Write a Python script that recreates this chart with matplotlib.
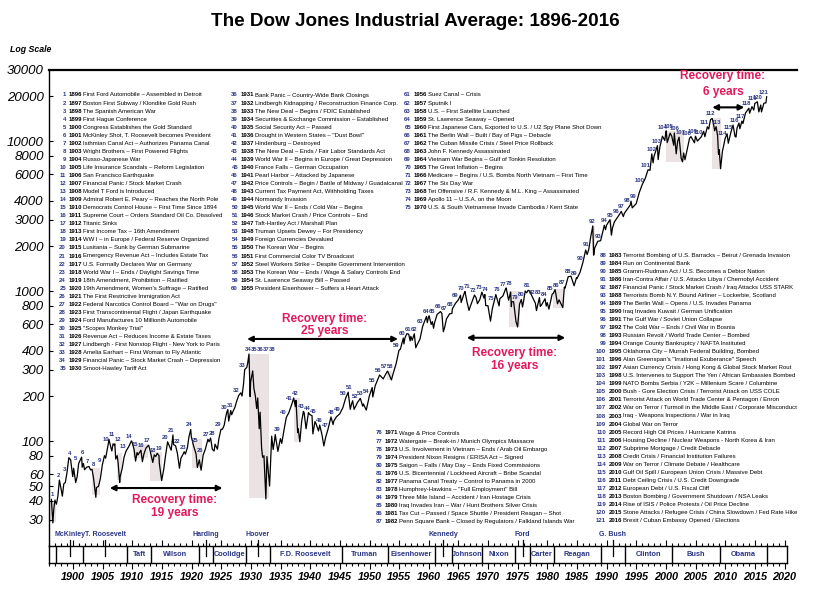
import numpy as np
import matplotlib
matplotlib.use("Agg")
import matplotlib.pyplot as plt
from matplotlib import font_manager as fm
from matplotlib.transforms import blended_transform_factory
from matplotlib.lines import Line2D
from matplotlib.ticker import FixedLocator, MultipleLocator, NullLocator

# ---------------- DATA ----------------
t_1890s = [1896.35, 1896.6, 1896.75, 1896.95, 1897.2, 1897.45, 1897.7, 1897.95, 1898.2, 1898.45, 1898.7, 1898.95, 1899.3, 1899.6, 1899.95]
v_1890s = [40.9, 28.5, 35, 40.5, 38, 43, 55, 49, 43, 52, 53, 60.5, 77.6, 75, 58]
t_1900s = [1900.1, 1900.45, 1900.7, 1900.95, 1901.3, 1901.45, 1901.55, 1901.75, 1901.95, 1902.3, 1902.7, 1902.95, 1903.2, 1903.45, 1903.85, 1903.95, 1904.3, 1904.6, 1904.95, 1905.3, 1905.5, 1905.95, 1906.05, 1906.35, 1906.55, 1906.75, 1906.95, 1907.05, 1907.2, 1907.45, 1907.6, 1907.87, 1907.95, 1908.3, 1908.6, 1908.95, 1909.4, 1909.85, 1909.95]
v_1900s = [66, 53, 58, 71, 76, 78.3, 67, 71, 64.5, 67, 67.8, 64.3, 65, 57, 42.2, 49, 50, 56, 69.6, 80, 77, 96, 103, 92, 86, 96, 94, 96, 76, 80, 72, 53, 58, 66, 78, 86, 92, 100.5, 99]
t_1910s = [1910.3, 1910.55, 1910.8, 1910.95, 1911.45, 1911.7, 1911.95, 1912.3, 1912.75, 1912.95, 1913.45, 1913.7, 1913.95, 1914.2, 1914.5, 1914.55, 1914.95, 1915.3, 1915.6, 1915.95, 1916.3, 1916.55, 1916.85, 1916.95, 1917.3, 1917.6, 1917.95, 1918.2, 1918.5, 1918.75, 1918.95, 1919.3, 1919.55, 1919.85, 1919.95]
v_1910s = [88, 73.6, 84, 81, 87, 73, 82, 90, 94, 88, 72.1, 81, 79, 83, 80, 71.4, 54.6, 65, 80, 99, 92, 87, 110, 95, 93, 83, 66, 77, 81, 85, 82, 91, 107, 119.6, 107]
t_1920s = [1920.3, 1920.55, 1920.75, 1920.97, 1921.3, 1921.6, 1921.95, 1922.3, 1922.75, 1922.95, 1923.2, 1923.5, 1923.8, 1923.95, 1924.35, 1924.6, 1924.95, 1925.2, 1925.5, 1925.75, 1925.95, 1926.1, 1926.25, 1926.6, 1926.75, 1926.95, 1927.3, 1927.6, 1927.95, 1928.3, 1928.5, 1928.75, 1928.95, 1929.3, 1929.45, 1929.67, 1929.87, 1929.95]
v_1920s = [94, 87, 82, 66.8, 75, 64, 81, 88, 103, 99, 105, 88, 86, 95.5, 88.3, 104, 120, 120, 128, 145, 156.7, 162, 136, 160, 150, 157, 168, 185, 202, 210, 200, 240, 300, 310, 330, 381, 198, 248]
t_1930s = [1930.3, 1930.5, 1930.75, 1930.97, 1931.15, 1931.4, 1931.55, 1931.8, 1931.97, 1932.2, 1932.52, 1932.7, 1932.97, 1933.15, 1933.5, 1933.75, 1933.97, 1934.1, 1934.55, 1934.97, 1935.2, 1935.6, 1935.97, 1936.4, 1936.97, 1937.2, 1937.5, 1937.6, 1937.88, 1937.97, 1938.25, 1938.55, 1938.85, 1938.97, 1939.3, 1939.7, 1939.97]
v_1930s = [294, 225, 200, 165, 194, 121, 156, 90, 78, 80, 41.2, 79, 60, 50.2, 108, 88, 100, 110.7, 85.5, 104, 96.7, 120, 144, 155, 180, 194, 170, 187, 114, 121, 99, 135, 158, 155, 121, 155, 150]
t_1940s = [1940.3, 1940.45, 1940.8, 1940.97, 1941.4, 1941.6, 1941.97, 1942.3, 1942.6, 1942.97, 1943.5, 1943.85, 1943.97, 1944.4, 1944.97, 1945.5, 1945.97, 1946.4, 1946.75, 1946.97, 1947.15, 1947.4, 1947.97, 1948.45, 1948.85, 1948.97, 1949.45, 1949.97]
v_1940s = [148, 111.8, 135, 131, 117, 128, 111, 92.9, 106, 119, 145, 129, 136, 145, 152, 167, 193, 212, 163, 177, 186, 163, 181, 193, 171, 177, 161, 200]
t_1950s = [1950.45, 1950.55, 1950.97, 1951.7, 1951.97, 1952.3, 1952.97, 1953.05, 1953.7, 1953.97, 1954.5, 1954.97, 1955.2, 1955.7, 1955.8, 1955.97, 1956.3, 1956.6, 1956.85, 1956.97, 1957.2, 1957.55, 1957.8, 1957.97, 1958.5, 1958.97, 1959.6, 1959.75, 1959.97]
v_1950s = [228, 197, 235, 276, 269, 260, 291, 293, 256, 281, 330, 404, 410, 487, 445, 488, 521, 517, 466, 500, 470, 520, 419, 435, 478, 584, 678, 617, 679]
t_1960s = [1960.05, 1960.4, 1960.6, 1960.8, 1960.97, 1961.4, 1961.97, 1962.2, 1962.45, 1962.7, 1962.97, 1963.5, 1963.9, 1963.97, 1964.5, 1964.97, 1965.35, 1965.45, 1965.97, 1966.1, 1966.4, 1966.78, 1966.97, 1967.7, 1967.97, 1968.2, 1968.6, 1968.95, 1969.3, 1969.45, 1969.6, 1969.97]
v_1960s = [685, 600, 626, 566, 616, 700, 731, 710, 536, 580, 652, 706, 711, 763, 830, 874, 939, 840, 969, 995, 860, 744, 786, 943, 905, 825, 880, 985, 900, 950, 801, 800]
t_1970s = [1970.4, 1970.7, 1970.97, 1971.3, 1971.85, 1971.97, 1972.5, 1972.95, 1973.05, 1973.45, 1973.8, 1973.92, 1973.97, 1974.3, 1974.7, 1974.97, 1975.3, 1975.6, 1975.8, 1975.97, 1976.25, 1976.5, 1976.75, 1976.97, 1977.5, 1977.97, 1978.15, 1978.65, 1978.8, 1978.97, 1979.6, 1979.8, 1979.97]
v_1970s = [631, 760, 839, 950, 797, 890, 930, 1036, 1051, 870, 987, 788, 851, 850, 627, 577, 820, 881, 784, 852, 1003, 975, 1014, 1004, 910, 831, 742, 907, 792, 805, 890, 796, 838]
t_1980s = [1980.25, 1980.8, 1980.97, 1981.3, 1981.7, 1981.97, 1982.6, 1982.85, 1982.97, 1983.5, 1983.97, 1984.5, 1984.9, 1984.97, 1985.5, 1985.97, 1986.45, 1986.7, 1986.97, 1987.3, 1987.65, 1987.8, 1987.97, 1988.5, 1988.97, 1989.6, 1989.8, 1989.97]
v_1980s = [759, 955, 964, 1024, 824, 875, 777, 1065, 1046, 1248, 1258, 1086, 1230, 1212, 1335, 1547, 1880, 1755, 1896, 2300, 2722, 1738, 1939, 2150, 2169, 2752, 2570, 2753]
t_1990s = [1990.55, 1990.8, 1990.97, 1991.3, 1991.97, 1992.45, 1992.8, 1992.97, 1993.97, 1994.1, 1994.3, 1994.97, 1995.5, 1995.97, 1996.5, 1996.97, 1997.3, 1997.6, 1997.82, 1997.97, 1998.55, 1998.67, 1998.97, 1999.4, 1999.8, 1999.97]
v_1990s = [2999, 2365, 2634, 2900, 3169, 3400, 3140, 3301, 3754, 3978, 3590, 3834, 4556, 5117, 5650, 6448, 6390, 8223, 7161, 7908, 9338, 7539, 9181, 10800, 10100, 11497]
t_2000s = [2000.04, 2000.2, 2000.7, 2000.97, 2001.3, 2001.4, 2001.72, 2001.97, 2002.2, 2002.55, 2002.78, 2002.97, 2003.2, 2003.97, 2004.2, 2004.8, 2004.97, 2005.3, 2005.97, 2006.35, 2006.55, 2006.97, 2007.2, 2007.5, 2007.78, 2007.97, 2008.2, 2008.45, 2008.7, 2008.85, 2008.97, 2009.2, 2009.5, 2009.97]
v_2000s = [11723, 9796, 11310, 10787, 9390, 11337, 8236, 10021, 10635, 7702, 7286, 8342, 7524, 10454, 10737, 9750, 10783, 10012, 10718, 11640, 10706, 12463, 12050, 13930, 14164, 13265, 11740, 12500, 10850, 8175, 8776, 6547, 8500, 10428]
t_2010s = [2010.3, 2010.5, 2010.97, 2011.3, 2011.65, 2011.8, 2011.97, 2012.3, 2012.45, 2012.8, 2012.97, 2013.4, 2013.97, 2014.1, 2014.5, 2014.8, 2014.97, 2015.4, 2015.65, 2015.97, 2016.1, 2016.5, 2016.85, 2016.97]
v_2010s = [11205, 9686, 11578, 12810, 10720, 10655, 12218, 13213, 12100, 13610, 13104, 15400, 16577, 15372, 17000, 16117, 17823, 18312, 15666, 17425, 15660, 17900, 18000, 19763]

# crash periods (shaded)
shade_start = [1896.1, 1903.15, 1907.35, 1910.1, 1913.0, 1920.0, 1929.6, 1937.2, 1953.0, 1973.6, 1981.0, 1987.6, 1990.5, 2000.0, 2007.75]
shade_end = [1897.2, 1904.55, 1908.2, 1912.6, 1915.05, 1921.7, 1933.1, 1938.3, 1953.75, 1975.3, 1982.6, 1988.0, 1990.85, 2003.0, 2009.3]
shade_top = [40, 66, 84, 95, 85, 104, 381, 195, 293, 1000, 1030, 2722, 3000, 11723, 14164]
shade_low = [29, 44, 55, 77, 54, 66, 42, 99, 255, 580, 775, 1738, 2365, 7286, 6547]

# recovery periods
rec_start = [1906.2, 1929.35, 1966.4, 2007.8]
rec_end = [1925.2, 1954.8, 1983.0, 2013.2]
rec_level = [48.7, 480, 489, 16800]
rec_text = ["19 years", "25 years", "16 years", "6 years"]
rec_text_x = [1917.2, 1942.5, 1974.5, 2009.6]
rec_text_y1 = [40.5, 652, 387, 27200]
rec_text_y2 = [33.2, 542, 317, 21270]

y_ticks = [30, 40, 50, 60, 80, 100, 200, 300, 400, 600, 800, 1000, 2000, 3000, 4000, 6000, 8000, 10000, 20000, 30000]
x_ticks = list(range(1900, 2021, 5))

pres_names = ["McKinley", "T. Roosevelt", "Taft", "Wilson", "Harding", "Coolidge", "Hoover",
              "F.D. Roosevelt", "Truman", "Eisenhower", "Kennedy", "Johnson", "Nixon", "Ford",
              "Carter", "Reagan", "G. Bush", "Clinton", "Bush", "Obama"]
pres_start = [1897.17, 1901.7, 1909.17, 1913.17, 1921.17, 1923.6, 1929.17, 1933.17, 1945.3, 1953.05,
              1961.05, 1963.9, 1969.05, 1974.6, 1977.05, 1981.05, 1989.05, 1993.05, 2001.05, 2009.05]
pres_end_last = 2017.05
pres_above = [True, True, False, False, True, False, True, False, False, False,
              True, False, False, True, False, False, True, False, False, False]

events = [
    "First Ford Automobile \u2013 Assembled in Detroit",
    "Boston First Subway / Klondike Gold Rush",
    "The Spanish American War",
    "First Hague Conference",
    "Congress Establishes the Gold Standard",
    "McKinley Shot, T. Roosevelt becomes President",
    "Isthmian Canal Act \u2013 Authorizes Panama Canal",
    "Wright Brothers \u2013 First Powered Flights",
    "Russo-Japanese War",
    "Life Insurance Scandals \u2013 Reform Legislation",
    "San Francisco Earthquake",
    "Financial Panic / Stock Market Crash",
    "Model T Ford is Introduced",
    "Admiral Robert E. Peary \u2013 Reaches the North Pole",
    "Democrats Control House \u2013 First Time Since 1894",
    "Supreme Court \u2013 Orders Standard Oil Co. Dissolved",
    "Titanic Sinks",
    "First Income Tax \u2013 16th Amendment",
    "WW I \u2013 in Europe / Federal Reserve Organized",
    "Lusitania \u2013 Sunk by German Submarine",
    "Emergency Revenue Act \u2013 Includes Estate Tax",
    "U.S. Formally Declares War on Germany",
    "World War I \u2013 Ends / Daylight Savings Time",
    "18th Amendment, Prohibition \u2013 Ratified",
    "19th Amendment, Women's Suffrage \u2013 Ratified",
    "The First Restrictive Immigration Act",
    "Federal Narcotics Control Board \u2013 \"War on Drugs\"",
    "First Transcontinental Flight / Japan Earthquake",
    "Ford Manufactures 10 Millionth Automobile",
    "\"Scopes Monkey Trial\"",
    "Revenue Act \u2013 Reduces Income & Estate Taxes",
    "Lindbergh - First Nonstop Flight - New York to Paris",
    "Amelia Earhart \u2013 First Woman to Fly Atlantic",
    "Financial Panic \u2013 Stock Market Crash \u2013 Depression",
    "Smoot-Hawley Tariff Act",
    "Bank Panic \u2013 Country-Wide Bank Closings",
    "Lindbergh Kidnapping / Reconstruction Finance Corp.",
    "The New Deal \u2013 Begins / FDIC Established",
    "Securities & Exchange Commission \u2013 Established",
    "Social Security Act \u2013 Passed",
    "Drought in Western States \u2013 \"Dust Bowl\"",
    "Hindenburg \u2013 Destroyed",
    "The New Deal \u2013 Ends / Fair Labor Standards Act",
    "World War II \u2013 Begins in Europe / Great Depression",
    "France Falls \u2013 German Occupation",
    "Pearl Harbor \u2013 Attacked by Japanese",
    "Price Controls \u2013 Begin / Battle of Midway / Guadalcanal",
    "Current Tax Payment Act, Withholding Taxes",
    "Normandy Invasion",
    "World War II \u2013 Ends / Cold War \u2013 Begins",
    "Stock Market Crash / Price Controls \u2013 End",
    "Taft-Hartley Act / Marshall Plan",
    "Truman Upsets Dewey \u2013 For Presidency",
    "Foreign Currencies Devalued",
    "The Korean War \u2013 Begins",
    "First Commercial Color TV Broadcast",
    "Steel Workers Strike \u2013 Despite Government Intervention",
    "The Korean War \u2013 Ends / Wage & Salary Controls End",
    "St. Lawrence Seaway Bill \u2013 Passed",
    "President Eisenhower \u2013 Suffers a Heart Attack",
    "Suez Canal \u2013 Crisis",
    "Sputnik I",
    "U.S. \u2013 First Satellite Launched",
    "St. Lawrence Seaway \u2013 Opened",
    "First Japanese Cars, Exported to U.S. / U2 Spy Plane Shot Down",
    "The Berlin Wall \u2013 Built / Bay of Pigs \u2013 Debacle",
    "The Cuban Missile Crisis / Steel Price Rollback",
    "John F. Kennedy Assassinated",
    "Vietnam War Begins \u2013 Gulf of Tonkin Resolution",
    "The Great Inflation \u2013 Begins",
    "Medicare \u2013 Begins / U.S. Bombs North Vietnam \u2013 First Time",
    "The Six Day War",
    "Tet Offensive / R.F. Kennedy & M.L. King \u2013 Assassinated",
    "Apollo 11 \u2013 U.S.A. on the Moon",
    "U.S. & South Vietnamese Invade Cambodia / Kent State",
    "Wage & Price Controls",
    "Watergate \u2013 Break-in / Munich Olympics Massacre",
    "U.S. Involvement in Vietnam \u2013 Ends / Arab Oil Embargo",
    "President Nixon Resigns / ERISA Act \u2013 Signed",
    "Saigon \u2013 Falls / May Day \u2013 Ends Fixed Commissions",
    "U.S. Bicentennial / Lockheed Aircraft \u2013 Bribe Scandal",
    "Panama Canal Treaty \u2013 Control to Panama in 2000",
    "Humphrey-Hawkins \u2013 \"Full Employment\" Bill",
    "Three Mile Island \u2013 Accident / Iran Hostage Crisis",
    "Iraq Invades Iran \u2013 War / Hunt Brothers Silver Crisis",
    "Tax Cut \u2013 Passed / Space Shuttle / President Reagan \u2013 Shot",
    "Penn Square Bank \u2013 Closed by Regulators / Falkland Islands War",
    "Terrorist Bombing of U.S. Barracks \u2013 Beirut / Grenada Invasion",
    "Run on Continental Bank",
    "Gramm-Rudman Act / U.S. Becomes a Debtor Nation",
    "Iran-Contra Affair / U.S. Attacks Libya / Chernobyl Accident",
    "Financial Panic / Stock Market Crash / Iraq Attacks USS STARK",
    "Terrorists Bomb N.Y. Bound Airliner \u2013 Lockerbie, Scotland",
    "The Berlin Wall \u2013 Opens / U.S. Invades Panama",
    "Iraq Invades Kuwait / German Unification",
    "The Gulf War / Soviet Union Collapse",
    "The Cold War \u2013 Ends / Civil War in Bosnia",
    "Russian Revolt / World Trade Center \u2013 Bombed",
    "Orange County Bankruptcy / NAFTA Instituted",
    "Oklahoma City \u2013 Murrah Federal Building, Bombed",
    "Alan Greenspan's \"Irrational Exuberance\" Speech",
    "Asian Currency Crisis / Hong Kong & Global Stock Market Rout",
    "U.S. Intervenes to Support The Yen / African Embassies Bombed",
    "NATO Bombs Serbia / Y2K \u2013 Millenium Scare / Columbine",
    "Bush - Gore Election Crisis / Terrorist Attack on USS COLE",
    "Terrorist Attack on World Trade Center & Pentagon / Enron",
    "War on Terror / Turmoil in the Middle East / Corporate Misconduct",
    "Iraq - Weapons Inspections / War in Iraq",
    "Global War on Terror",
    "Record High Oil Prices / Hurricane Katrina",
    "Housing Decline / Nuclear Weapons - North Korea & Iran",
    "Subprime Mortgage / Credit Debacle",
    "Credit Crisis / Financial Institution Failures",
    "War on Terror / Climate Debate / Healthcare",
    "Gulf Oil Spill / European Union Crisis / Massive Debt",
    "Debt Ceiling Crisis / U.S. Credit Downgrade",
    "European Debt / U.S. Fiscal Cliff",
    "Boston Bombing / Government Shutdown / NSA Leaks",
    "Rise of ISIS / Police Protests / Oil Price Decline",
    "Stone Attacks / Refugee Crisis / China Slowdown / Fed Rate Hike",
    "Brexit / Cuban Embassy Opened / Elections",
]
FIRST_YEAR = 1896

# ---------------- STYLE ----------------
installed = {f.name for f in fm.fontManager.ttflist}
NARROW = "Liberation Sans Narrow" in installed
BASE = "Liberation Sans" if "Liberation Sans" in installed else "DejaVu Sans"
COND = "Liberation Sans Narrow" if NARROW else BASE
plt.rcParams["font.family"] = [BASE, "DejaVu Sans"]

NAVY = "#2a3585"
RED = "#e3195b"
SHADE = "#ebe2e3"

W, H = 823, 591
fig = plt.figure(figsize=(W / 100, H / 100), dpi=100)
fig.patch.set_facecolor("white")


def fx(px):
    return px / W


def fy(py):
    return 1 - py / H


PXY = 5.93      # pixels per year
X0 = 49.3       # pixel of left axis

# ---------------- MAIN AXES ----------------
ax = fig.add_axes([fx(X0), fy(546), fx(797) - fx(X0), fy(69.6) - fy(546)])
ax.set_xlim(1896, 1896 + (797 - X0) / PXY)
ax.set_yscale("log")
ax.set_ylim(20, 30000)

dow_t = np.array(t_1890s + t_1900s + t_1910s + t_1920s + t_1930s + t_1940s + t_1950s + t_1960s + t_1970s + t_1980s + t_1990s + t_2000s + t_2010s)
dow_v = np.array(v_1890s + v_1900s + v_1910s + v_1920s + v_1930s + v_1940s + v_1950s + v_1960s + v_1970s + v_1980s + v_1990s + v_2000s + v_2010s)

for s, e, hi, lo in zip(shade_start, shade_end, shade_top, shade_low):
    ax.fill_between([s, e], lo, hi, color=SHADE, lw=0, zorder=1)

ax.plot(dow_t, dow_v, color="black", lw=0.9, zorder=3)

# numbered year labels along the line
for k in range(len(events)):
    yr = FIRST_YEAR + k
    m = (dow_t >= yr) & (dow_t < yr + 1)
    top = dow_v[m].max() if m.any() else dow_v[np.argmin(np.abs(dow_t - yr))]
    for s, e, hi, lo in zip(shade_start, shade_end, shade_top, shade_low):
        if s <= yr + 1 and e >= yr and hi / lo > 4:
            top = max(top, hi)
    ax.annotate(str(k + 1), (yr + 0.5, top), xytext=(0, 1.5), textcoords="offset points",
                ha="center", va="bottom", fontsize=4.2, color=NAVY, fontweight="bold", zorder=5)

for sp in ("right", "bottom"):
    ax.spines[sp].set_visible(False)
ax.spines["top"].set_linewidth(1.6)
ax.spines["left"].set_linewidth(1.0)
ax.set_xticks([])
ax.yaxis.set_major_locator(FixedLocator(y_ticks))
ax.yaxis.set_minor_locator(NullLocator())
ax.set_yticklabels([str(v) for v in y_ticks], fontsize=9.5, fontstyle="italic")
ax.tick_params(axis="y", direction="in", length=3, width=0.8, pad=4)

# recovery annotations
for s, e, lvl, txt, tx, ty1, ty2 in zip(rec_start, rec_end, rec_level, rec_text, rec_text_x, rec_text_y1, rec_text_y2):
    ax.annotate("", xy=(e, lvl), xytext=(s, lvl),
                arrowprops=dict(arrowstyle="<|-|>", color="black", lw=1.5, mutation_scale=8,
                                shrinkA=0, shrinkB=0), zorder=6)
    rs = 10.3 if NARROW else 8.6
    ax.text(tx, ty1, "Recovery time:", ha="center", va="center", color=RED, fontsize=rs,
            fontweight="bold", family=COND, zorder=6)
    ax.text(tx, ty2, txt, ha="center", va="center", color=RED, fontsize=rs,
            fontweight="bold", family=COND, zorder=6)

# ---------------- PRESIDENT STRIP ----------------
sax = fig.add_axes([fx(X0), fy(563), fx(787) - fx(X0), fy(546) - fy(563)])
sax.set_xlim(1896, 1896 + (787 - X0) / PXY)
sax.set_ylim(0, 1)
for sp in sax.spines.values():
    sp.set_linewidth(1.0)
sax.set_yticks([])
sax.xaxis.set_major_locator(FixedLocator(x_ticks))
sax.xaxis.set_minor_locator(MultipleLocator(1))
sax.tick_params(axis="x", which="both", top=True, bottom=True, direction="out", width=0.8)
sax.tick_params(axis="x", which="major", length=4.5, pad=2)
sax.tick_params(axis="x", which="minor", length=2.5)
sax.set_xticklabels([str(x) for x in x_ticks], fontsize=7.8, fontweight="bold", fontstyle="italic")

bounds = pres_start + [pres_end_last]
trans = blended_transform_factory(sax.transData, fig.transFigure)
for i, name in enumerate(pres_names):
    s, e = bounds[i], bounds[i + 1]
    sax.axvline(s, color="black", lw=1.0)
    mid = (s + e) / 2
    if pres_above[i]:
        fig.add_artist(Line2D([mid, mid], [fy(540), fy(556)], transform=trans, color="black", lw=0.9))
        fig.text(mid, fy(535), name, transform=trans, ha="center", va="center", fontsize=5.0,
                 fontweight="bold", color=NAVY)
    else:
        sax.text(mid, 0.5, name, ha="center", va="center", fontsize=5.3, fontweight="bold", color=NAVY)
sax.axvline(pres_end_last, color="black", lw=1.0)

# ---------------- TITLE & LABELS ----------------
fig.text(fx(415), fy(21), "The Dow Jones Industrial Average: 1896-2016", ha="center", va="center",
         fontsize=16.5 if NARROW else 13.6, fontweight="bold", family=COND)
fig.text(fx(10), fy(49), "Log Scale", ha="left", va="center", fontsize=6.3, fontweight="bold",
         fontstyle="italic")

# ---------------- EVENT LISTS ----------------
cols = [(1, 35, 66, 95, 8.05), (36, 60, 238, 95, 8.05), (61, 75, 411, 95, 8.05),
        (76, 87, 382, 433, 8.03), (88, 121, 606, 255, 8.05)]
FS = 4.3
for a, b, xr, y0, dy in cols:
    for n in range(a, b + 1):
        y = y0 + (n - a) * dy
        fig.text(fx(xr), fy(y), str(n), ha="right", va="center", fontsize=FS, color=NAVY, fontweight="bold")
        fig.text(fx(xr + 3), fy(y), str(FIRST_YEAR + n - 1), ha="left", va="center", fontsize=FS,
                 fontweight="bold")
        fig.text(fx(xr + 17), fy(y), events[n - 1], ha="left", va="center", fontsize=FS)

fig.savefig("out.png", dpi=100, facecolor="white")
